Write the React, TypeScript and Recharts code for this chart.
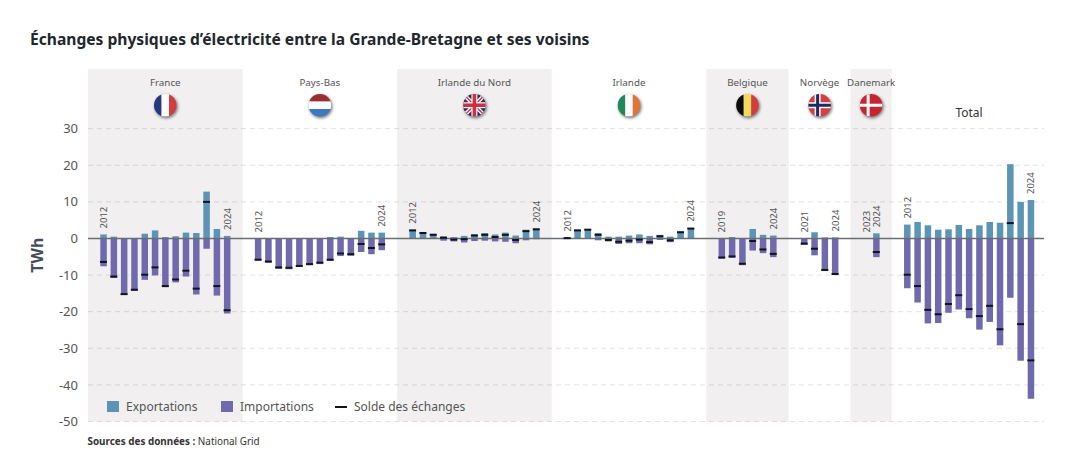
import React from 'react';
import {
  ComposedChart, Bar, Line, XAxis, YAxis, CartesianGrid, ReferenceArea, ReferenceLine, ReferenceDot, LabelList,
} from 'recharts';

const FONT = '"Noto Sans", Lato, sans-serif';
const EXPORT_COLOR = '#5b94b5';
const IMPORT_COLOR = '#7169ad';
const BAND_WIDTH = 10.31;

const years12 = ['2012', '2013', '2014', '2015', '2016', '2017', '2018', '2019', '2020', '2021', '2022', '2023', '2024'];

const franceExports = [1.1, 0.5, 0.1, 0.1, 1.3, 2.2, 0.4, 0.6, 1.6, 1.5, 12.8, 2.6, 0.7];
const franceImports = [-7.6, -10.8, -15.4, -14.3, -11.3, -10.1, -13.3, -12, -10.4, -15.3, -2.8, -15.6, -20.5];
const franceSolde = [-6.4, -10.4, -15.2, -14, -9.9, -7.9, -13, -11.2, -8.8, -13.7, 10, -13, -19.6];

const paysBasExports = [0.01, 0.01, 0.01, 0.01, 0.1, 0.1, 0.1, 0.4, 0.5, 0.1, 2.1, 1.6, 1.6];
const paysBasImports = [-6, -6.6, -8.3, -8.4, -7.8, -7.3, -7, -6.1, -4.8, -4.7, -3.7, -4.3, -3.2];
const paysBasSolde = [-5.8, -6.3, -7.9, -8, -7.5, -7, -6.6, -5.8, -4.1, -4.3, -1.5, -2.6, -1.6];

const irlandeNordExports = [2.4, 1.7, 1.3, 0.6, 0.4, 0.7, 1.2, 1.5, 1.1, 1.6, 0.8, 2.4, 2.7];
const irlandeNordImports = [0, 0, 0, -0.6, -0.8, -1.1, -0.7, -0.6, -0.8, -0.9, -1.3, -0.5, -0.2];
const irlandeNordSolde = [2.2, 1.5, 1, 0.2, -0.3, -0.2, 0.8, 1, 0.4, 1, -0.4, 2, 2.5];

const irlandeExports = [0.2, 2.4, 2.6, 1.5, 0.5, 0.5, 0.8, 1.1, 0.7, 1, 0.5, 1.9, 2.9];
const irlandeImports = [-0.1, 0, 0, -0.5, -0.8, -1.5, -1.3, -1.3, -1.6, -0.4, -1, -0.1, -0.1];
const irlandeSolde = [0.1, 2.2, 2.4, 1, -0.4, -0.9, -0.6, -0.3, -1, 0.6, -0.5, 1.7, 2.7];

const belgiqueYears = ['2019', '2020', '2021', '2022', '2023', '2024'];
const belgiqueExports = [0.01, 0.4, 0.1, 2.6, 1, 0.8];
const belgiqueImports = [-5.5, -5.3, -7.3, -3.3, -4, -5.1];
const belgiqueSolde = [-5.2, -4.9, -6.9, -0.7, -3, -4.2];

const norvegeYears = ['2021', '2022', '2023', '2024'];
const norvegeExports = [0.01, 1.7, 0.3, 0.3];
const norvegeImports = [-1.7, -4.6, -8.9, -10];
const norvegeSolde = [-1.4, -2.8, -8.6, -9.7];

const danemarkYears = ['2023', '2024'];
const danemarkExports = [0.01, 1.4];
const danemarkImports = [0, -5.1];
const danemarkSolde = [null, -3.7];

const totalExports = [3.8, 4.5, 3.6, 2.4, 2.5, 3.7, 2.6, 3.6, 4.5, 4.3, 20.3, 10, 10.5];
const totalImports = [-13.6, -17.5, -23.2, -23.1, -20.3, -19.4, -21.8, -24.9, -22.8, -29.2, -16.2, -33.4, -43.8];
const totalSolde = [-9.9, -13, -19.5, -20.7, -17.9, -15.5, -19.3, -21.2, -18.4, -24.8, 4.2, -23.4, -33.3];

const yTicks = [30, 20, 10, 0, -10, -20, -30, -40, -50];

type Seg = { name: string; flag: string | null; shaded: boolean; years: string[]; exp: number[]; imp: number[]; solde: (number | null)[] };

const segments: Seg[] = [
  { name: 'France', flag: 'fr', shaded: true, years: years12, exp: franceExports, imp: franceImports, solde: franceSolde },
  { name: 'Pays-Bas', flag: 'nl', shaded: false, years: years12, exp: paysBasExports, imp: paysBasImports, solde: paysBasSolde },
  { name: 'Irlande du Nord', flag: 'uk', shaded: true, years: years12, exp: irlandeNordExports, imp: irlandeNordImports, solde: irlandeNordSolde },
  { name: 'Irlande', flag: 'ie', shaded: false, years: years12, exp: irlandeExports, imp: irlandeImports, solde: irlandeSolde },
  { name: 'Belgique', flag: 'be', shaded: true, years: belgiqueYears, exp: belgiqueExports, imp: belgiqueImports, solde: belgiqueSolde },
  { name: 'Norvège', flag: 'no', shaded: false, years: norvegeYears, exp: norvegeExports, imp: norvegeImports, solde: norvegeSolde },
  { name: 'Danemark', flag: 'dk', shaded: true, years: danemarkYears, exp: danemarkExports, imp: danemarkImports, solde: danemarkSolde },
  { name: 'Total', flag: null, shaded: false, years: years12, exp: totalExports, imp: totalImports, solde: totalSolde },
];

const rows: any[] = [{ key: 'blank-start' }];
const areas: { name: string; x1: string; x2: string }[] = [];
const headers: { seg: Seg; key: string; half: boolean }[] = [];

segments.forEach((seg, s) => {
  if (s > 0) rows.push({ key: `blank-${s}-pre` });
  seg.years.forEach((yr, i) => {
    const isEnd = i === 0 || i === seg.years.length - 1;
    rows.push({
      key: `${seg.name} ${yr}`,
      exportations: seg.exp[i],
      importations: seg.imp[i],
      solde: seg.solde[i],
      yearLabel: isEnd ? yr : undefined,
    });
  });
  if (s < segments.length - 1) rows.push({ key: `blank-${s}-post` });
});

segments.forEach((seg) => {
  const first = rows.findIndex((r) => r.key === `${seg.name} ${seg.years[0]}`);
  const n = seg.years.length;
  headers.push({ seg, key: rows[first + Math.floor((n - 1) / 2)].key, half: n % 2 === 0 });
  if (seg.shaded) {
    areas.push({ name: seg.name, x1: rows[first - 1].key, x2: rows[first + n].key });
  }
});

const FlagArt = ({ code }: { code: string }) => {
  const r = 11.5;
  if (code === 'fr') return (<>
    <rect x={-r} y={-r} width={7.7} height={23} fill="#27377e" />
    <rect x={-3.8} y={-r} width={7.7} height={23} fill="#fbfbfb" />
    <rect x={3.8} y={-r} width={7.7} height={23} fill="#d43c40" />
  </>);
  if (code === 'nl') return (<>
    <rect x={-r} y={-r} width={23} height={7.7} fill="#9a2f33" />
    <rect x={-r} y={-3.8} width={23} height={7.7} fill="#fbfbfb" />
    <rect x={-r} y={3.8} width={23} height={7.7} fill="#3d7abd" />
  </>);
  if (code === 'ie') return (<>
    <rect x={-r} y={-r} width={7.7} height={23} fill="#1f8a57" />
    <rect x={-3.8} y={-r} width={7.7} height={23} fill="#fbfbfb" />
    <rect x={3.8} y={-r} width={7.7} height={23} fill="#de7437" />
  </>);
  if (code === 'be') return (<>
    <rect x={-r} y={-r} width={7.7} height={23} fill="#0c0c0c" />
    <rect x={-3.8} y={-r} width={7.7} height={23} fill="#f6d95c" />
    <rect x={3.8} y={-r} width={7.7} height={23} fill="#d43c40" />
  </>);
  if (code === 'no') return (<>
    <rect x={-r} y={-r} width={23} height={23} fill="#d5403f" />
    <rect x={-5} y={-r} width={6} height={23} fill="#fbfbfb" />
    <rect x={-r} y={-3} width={23} height={6} fill="#fbfbfb" />
    <rect x={-3.5} y={-r} width={3} height={23} fill="#1d2a66" />
    <rect x={-r} y={-1.5} width={23} height={3} fill="#1d2a66" />
  </>);
  if (code === 'dk') return (<>
    <rect x={-r} y={-r} width={23} height={23} fill="#c8242f" />
    <rect x={-4.5} y={-r} width={3} height={23} fill="#fbfbfb" />
    <rect x={-r} y={-1.5} width={23} height={3} fill="#fbfbfb" />
  </>);
  return (<>
    <rect x={-r} y={-r} width={23} height={23} fill="#232a66" />
    <line x1={-r} y1={-r} x2={r} y2={r} stroke="#fbfbfb" strokeWidth={4} />
    <line x1={r} y1={-r} x2={-r} y2={r} stroke="#fbfbfb" strokeWidth={4} />
    <line x1={-r} y1={-r} x2={r} y2={r} stroke="#cf3040" strokeWidth={1.4} />
    <line x1={r} y1={-r} x2={-r} y2={r} stroke="#cf3040" strokeWidth={1.4} />
    <rect x={-3} y={-r} width={6} height={23} fill="#fbfbfb" />
    <rect x={-r} y={-3} width={23} height={6} fill="#fbfbfb" />
    <rect x={-1.8} y={-r} width={3.6} height={23} fill="#cf3040" />
    <rect x={-r} y={-1.8} width={23} height={3.6} fill="#cf3040" />
  </>);
};

const HeaderShape = (props: any) => {
  const { cx, cy, seg, half } = props;
  const x = cx + (half ? BAND_WIDTH / 2 : 0);
  if (!seg.flag) {
    return <text x={x} y={cy} textAnchor="middle" dominantBaseline="central" fontFamily={FONT} fontSize={12} fill="#333">{seg.name}</text>;
  }
  return (
    <g>
      <text x={x} y={cy - 23} textAnchor="middle" dominantBaseline="central" fontFamily={FONT} fontSize={9.8} fill="#555">{seg.name}</text>
      <g transform={`translate(${x},${cy})`}>
        <circle r={11.5} cx={1} cy={1.5} fill="#777" style={{ filter: 'blur(1.5px)' }} />
        <clipPath id={`flag-${seg.flag}`}><circle r={11.3} /></clipPath>
        <g clipPath={`url(#flag-${seg.flag})`}><FlagArt code={seg.flag} /></g>
      </g>
    </g>
  );
};

const YearLabel = (props: any) => {
  const { x, y, width, value } = props;
  if (!value) return null;
  const tx = x + width / 2;
  const ty = y - 6;
  return (
    <text x={tx} y={ty} transform={`rotate(-90 ${tx} ${ty})`} textAnchor="start" dominantBaseline="central" fontFamily={FONT} fontSize={9.5} fill="#555">
      {value}
    </text>
  );
};

const SoldeDot = (props: any) => {
  const { cx, cy, value } = props;
  if (value === null || value === undefined || cy === null || cy === undefined) return <g key={props.index} />;
  return <rect key={props.index} x={cx - 3.5} y={cy - 1} width={7} height={2} fill="#10131f" />;
};

const legendItems = [
  { label: 'Exportations', color: EXPORT_COLOR, kind: 'box', width: 114 },
  { label: 'Importations', color: IMPORT_COLOR, kind: 'box', width: 114 },
  { label: 'Solde des échanges', color: '#10131f', kind: 'dash', width: 140 },
];

export default function App() {
  return (
    <div style={{ position: 'absolute', left: 0, top: 0, width: 1090, height: 467, background: '#fff', overflow: 'hidden' }}>
      <div style={{ position: 'absolute', left: 30, top: 28, fontFamily: FONT, fontWeight: 700, fontSize: 15.6, color: '#22272e', whiteSpace: 'nowrap' }}>
        Échanges physiques d’électricité entre la Grande-Bretagne et ses voisins
      </div>
      <ComposedChart
        width={1090}
        height={467}
        data={rows}
        stackOffset="sign"
        margin={{ top: 69, right: 46, bottom: 45.5, left: 28 }}
        barSize={6.5}
      >
        {areas.map((a) => (
          <ReferenceArea key={a.name} x1={a.x1} x2={a.x2} fill="#503744" fillOpacity={0.08} stroke="none" />
        ))}
        <CartesianGrid vertical={false} horizontalValues={yTicks} stroke="#e2e2e2" strokeDasharray="5 4" />
        <XAxis dataKey="key" type="category" hide padding={{ left: 0, right: 8 }} interval={0} />
        <YAxis
          type="number"
          width={60}
          domain={[-50, 46.3]}
          ticks={yTicks}
          tickLine={false}
          axisLine={false}
          tickMargin={4}
          tick={{ fontFamily: FONT, fontSize: 13, fill: '#555' }}
          label={{ value: 'TWh', angle: -90, position: 'insideLeft', dx: 4, dy: 10, style: { fontFamily: FONT, fontWeight: 700, fontSize: 16, fill: '#444c5a', textAnchor: 'middle' } }}
        />
        <Bar dataKey="exportations" stackId="a" fill={EXPORT_COLOR} isAnimationActive={false}>
          <LabelList dataKey="yearLabel" content={<YearLabel />} />
        </Bar>
        <Bar dataKey="importations" stackId="a" fill={IMPORT_COLOR} isAnimationActive={false} />
        <ReferenceLine y={0} stroke="#6a6d72" strokeWidth={1.4} />
        <Line dataKey="solde" stroke="none" dot={<SoldeDot />} activeDot={false} isAnimationActive={false} connectNulls={false} legendType="none" />
        {headers.map((h) => (
          <ReferenceDot
            key={h.seg.name}
            x={h.key}
            y={h.seg.flag ? 36.4 : 34.3}
            r={0}
            shape={(p: any) => <HeaderShape {...p} seg={h.seg} half={h.half} />}
          />
        ))}
      </ComposedChart>
      <div style={{ position: 'absolute', left: 107, top: 398, display: 'flex', alignItems: 'center', height: 17, fontFamily: FONT, fontSize: 12, color: '#555', whiteSpace: 'nowrap' }}>
        {legendItems.map((it) => (
          <div key={it.label} style={{ display: 'flex', alignItems: 'center', width: it.width }}>
            {it.kind === 'box'
              ? <span style={{ width: 11.5, height: 11.5, background: it.color, marginRight: 7.5, display: 'inline-block' }} />
              : <span style={{ width: 11.5, height: 2, background: it.color, marginRight: 7.5, display: 'inline-block' }} />}
            <span>{it.label}</span>
          </div>
        ))}
      </div>
      <div style={{ position: 'absolute', left: 87.5, top: 434, fontFamily: FONT, fontSize: 9.9, color: '#333', whiteSpace: 'nowrap' }}>
        <b>Sources des données :</b> National Grid
      </div>
    </div>
  );
}
